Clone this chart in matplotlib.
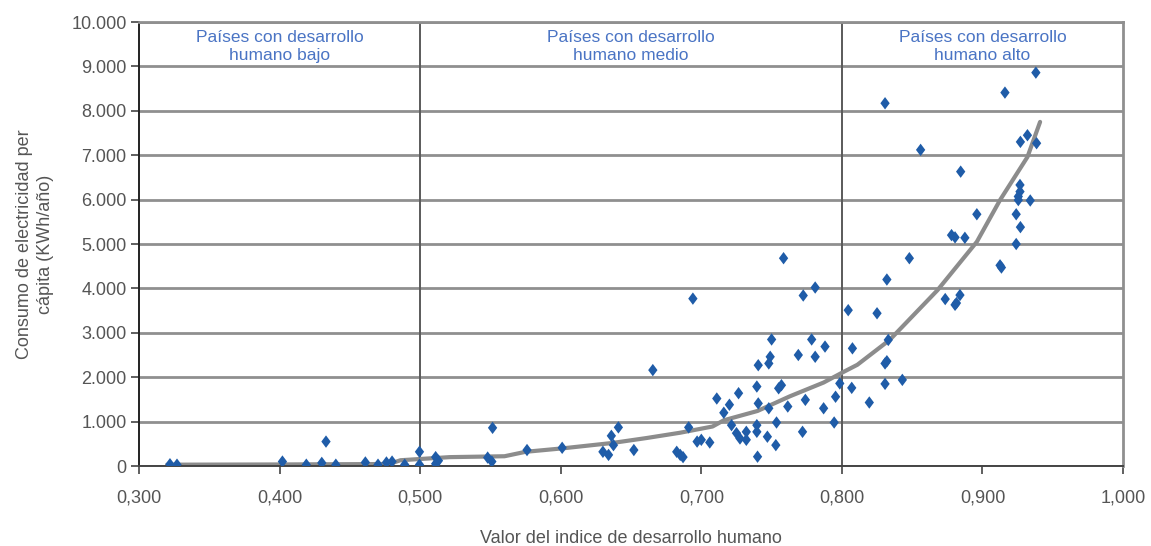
import matplotlib
matplotlib.use("Agg")
import matplotlib.pyplot as plt
from matplotlib.path import Path
from matplotlib.ticker import FuncFormatter, MultipleLocator

plt.rcParams['font.family'] = ['Liberation Sans', 'DejaVu Sans']

# Índice de desarrollo humano (IDH) por país
idh = [
    0.322, 0.327, 0.402, 0.419, 0.430, 0.433, 0.440, 0.461, 0.470, 0.476,
    0.480, 0.489, 0.4995, 0.4995, 0.511, 0.511, 0.513, 0.548, 0.551, 0.5515,
    0.576, 0.601, 0.630, 0.634, 0.636, 0.6375, 0.641, 0.652, 0.6655, 0.6825,
    0.685, 0.687, 0.691, 0.694, 0.697, 0.700, 0.706, 0.711, 0.716, 0.720,
    0.7215, 0.7265, 0.725, 0.7275, 0.732, 0.732, 0.7395, 0.7405, 0.7395, 0.7395,
    0.740, 0.7405, 0.747, 0.748, 0.749, 0.748, 0.750, 0.7535, 0.753, 0.755,
    0.757, 0.7585, 0.7615, 0.769, 0.7725, 0.772, 0.774, 0.7785, 0.781, 0.781,
    0.787, 0.788, 0.7945, 0.7955, 0.7985, 0.8045, 0.8075, 0.807, 0.8195, 0.825,
    0.832, 0.8307, 0.832, 0.8307, 0.833, 0.843, 0.848, 0.8307, 0.856, 0.8735,
    0.8805, 0.8815, 0.884, 0.8845, 0.896, 0.878, 0.8805, 0.8875, 0.9125, 0.9135,
    0.916, 0.938, 0.927, 0.932, 0.9385, 0.9267, 0.9267, 0.9255, 0.9255, 0.934,
    0.924, 0.927, 0.924,
]
# Consumo de electricidad per cápita (kWh/año)
consumo = [
    40, 30, 100, 30, 70, 550, 30, 80, 30, 80,
    100, 30, 320, 30, 200, 50, 120, 190, 100, 860,
    360, 410, 320, 250, 680, 470, 870, 360, 2160, 320,
    250, 200, 870, 3770, 550, 590, 530, 1520, 1200, 1380,
    920, 1640, 740, 620, 770, 590, 1790, 1410, 920, 770,
    210, 2270, 660, 2310, 2460, 1300, 2850, 980, 470, 1750,
    1820, 4680, 1340, 2500, 3840, 770, 1490, 2850, 2460, 4020,
    1300, 2690, 980, 1560, 1860, 3510, 2650, 1760, 1430, 3440,
    4200, 2310, 2360, 1850, 2840, 1940, 4680, 8170, 7120, 3760,
    3630, 3670, 3850, 6630, 5670, 5200, 5150, 5140, 4520, 4470,
    8410, 8860, 7300, 7450, 7270, 6330, 6180, 6070, 5990, 5980,
    5670, 5380, 5000,
]

# Línea de tendencia
tendencia_x = [0.320, 0.400, 0.478, 0.486, 0.521, 0.560, 0.575, 0.602, 0.637,
               0.661, 0.685, 0.708, 0.716, 0.740, 0.763, 0.787, 0.800, 0.811,
               0.834, 0.868, 0.896, 0.9125, 0.932, 0.941]
tendencia_y = [30, 35, 45, 130, 200, 220, 320, 400, 520,
               630, 750, 890, 1030, 1240, 1570, 1880, 2100, 2280,
               2840, 3960, 5050, 5990, 6960, 7750]

# Grupos de países
grupos = ["Países con desarrollo\nhumano bajo",
          "Países con desarrollo\nhumano medio",
          "Países con desarrollo\nhumano alto"]
limites_grupos = [0.3, 0.5, 0.8, 1.0]

fig = plt.figure(figsize=(11.51, 5.46), dpi=100)
ax = fig.add_axes([0.1208, 0.1465, 0.9757 - 0.1208, 0.9597 - 0.1465])

ax.set_xlim(0.3, 1.0)
ax.set_ylim(0, 10000)

# horizontal gridlines
ax.yaxis.set_major_locator(MultipleLocator(1000))
ax.xaxis.set_major_locator(MultipleLocator(0.1))
ax.grid(axis='y', color='#8f8f8f', linewidth=2.0, zorder=0)
ax.set_axisbelow(True)

# group separators
for xv in limites_grupos[1:-1]:
    ax.axvline(xv, color='#5a5a5a', linewidth=1.4, zorder=1)

# group headers
for i, g in enumerate(grupos):
    xc = (limites_grupos[i] + limites_grupos[i + 1]) / 2
    ax.text(xc, 9450, g, ha='center', va='center', color='#4a74c4',
            fontsize=12.5, linespacing=1.2, zorder=3)

ax.plot(tendencia_x, tendencia_y, color='#8c8c8c', linewidth=3.0,
        solid_capstyle='round', solid_joinstyle='round', zorder=2)

diamante = Path([(0, 1), (0.75, 0), (0, -1), (-0.75, 0), (0, 1)],
                [Path.MOVETO, Path.LINETO, Path.LINETO, Path.LINETO, Path.CLOSEPOLY])
ax.scatter(idh, consumo, marker=diamante, s=80, color='#1f5ca8',
           edgecolors='none', zorder=4)

# spines
ax.spines['left'].set_color('#222222')
ax.spines['left'].set_linewidth(1.4)
ax.spines['bottom'].set_color('#444444')
ax.spines['bottom'].set_linewidth(1.4)
for s in ('top', 'right'):
    ax.spines[s].set_color('#8f8f8f')
    ax.spines[s].set_linewidth(2.0)

ax.tick_params(axis='both', direction='out', length=6, width=1.2,
               colors='#444444', labelcolor='#555555', labelsize=13)
ax.tick_params(axis='x', pad=11)
ax.tick_params(axis='y', pad=3)

ax.yaxis.set_major_formatter(FuncFormatter(lambda v, p: f"{int(v):,}".replace(",", ".")))
ax.xaxis.set_major_formatter(FuncFormatter(lambda v, p: f"{v:.3f}".replace(".", ",")))

ax.set_xlabel("Valor del indice de desarrollo humano", fontsize=13,
              color='#555555', labelpad=17)
ax.set_ylabel("Consumo de electricidad per\ncápita (KWh/año)", fontsize=13,
              color='#555555', labelpad=12, linespacing=1.35)

fig.savefig("out.png", dpi=100, facecolor='white')
